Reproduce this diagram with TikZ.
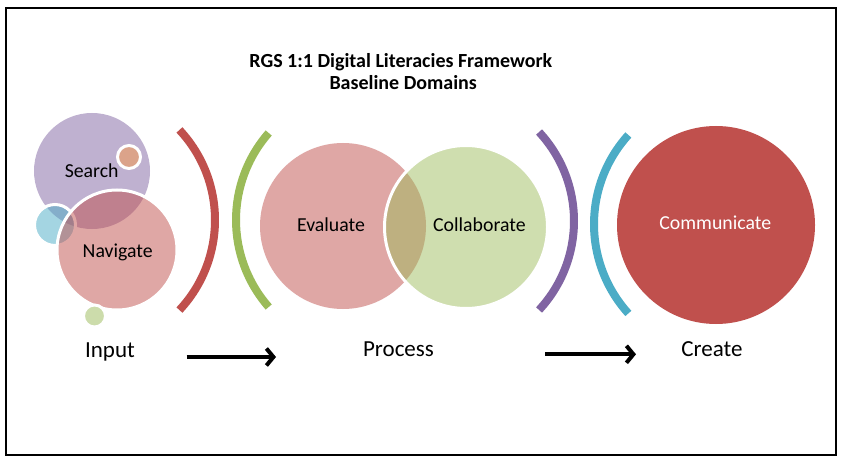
\documentclass[tikz,border=0pt]{standalone}
\usepackage{fontspec}
\setmainfont{Carlito}
\usetikzlibrary{arrows.meta}
\definecolor{cRed}{HTML}{C0504D}
\definecolor{cGreen}{HTML}{9BBB59}
\definecolor{cPurple}{HTML}{8064A2}
\definecolor{cBlue}{HTML}{4BACC6}
\definecolor{cOrange}{HTML}{F79646}
\begin{document}
\begin{tikzpicture}[x=1pt,y=-1pt,
  bubble/.style={circle, inner sep=0pt, minimum size=#1, fill opacity=0.5},
  ring/.style={draw=white, line width=3pt},
  lbl/.style={anchor=base, inner sep=0pt, font=\fontsize{19.8}{24}\selectfont},
  stage/.style={anchor=base, inner sep=0pt, font=\fontsize{23}{28}\selectfont},
  heading/.style={anchor=base, inner sep=0pt, font=\bfseries\fontsize{20}{24}\selectfont},
  bracket/.style={line width=8pt},
  flow/.style={line width=4pt, -{Straight Barb[length=7pt,width=17pt]}}
]
\useasboundingbox (0,0) rectangle (842,462);
\fill[white] (0,0) rectangle (842,462);
\draw[line width=2pt] (6,8) rectangle (836,455);

% title
\node[heading] (title1) at (400.8,67.3) {RGS 1:1 Digital Literacies Framework};
\node[heading] (title2) at (403.2,90) {Baseline Domains};

% input cluster
\node[bubble=116pt, fill=cPurple] (search) at (92,171) {};
\node[bubble=23pt, fill=cOrange, ring] (dotA) at (129,157) {};
\node[bubble=41pt, fill=cBlue, ring] (dotB) at (55,225) {};
\node[bubble=120pt, fill=cRed, ring] (navigate) at (117,250) {};
\node[bubble=22pt, fill=cGreen, ring] (dotC) at (94.5,316) {};

% brackets
\draw[bracket, cRed] (83.2,220) ++(-43.1:131.8)
  arc[start angle=-43.1, end angle=43.1, radius=131.8];
\draw[bracket, cGreen] (368.1,220) ++(221.2:132.1)
  arc[start angle=221.2, end angle=138.8, radius=132.1];
\draw[bracket, cPurple] (443.3,221) ++(-42.9:130.7)
  arc[start angle=-42.9, end angle=42.9, radius=130.7];
\draw[bracket, cBlue] (727.1,224.2) ++(222.1:133.1)
  arc[start angle=222.1, end angle=137.9, radius=133.1];

% process pair
\node[bubble=166pt, fill=cRed] (evaluate) at (343,226) {};
\node[bubble=163pt, fill=cGreen, fill opacity=0.48, ring] (collab) at (466,227) {};

% create
\node[circle, inner sep=0pt, minimum size=198pt, fill=cRed] (communicate) at (716,225) {};

% labels
\node[lbl] (searchT) at (91.7,177.7) {Search};
\node[lbl] (navT) at (117.7,257.7) {Navigate};
\node[lbl] (evalT) at (331,232) {Evaluate};
\node[lbl] (collabT) at (479.4,231.7) {Collaborate};
\node[lbl, text=white] (commT) at (715.3,229.3) {Communicate};

\node[stage] (input) at (110,357) {Input};
\node[stage] (process) at (398.5,356.7) {Process};
\node[stage] (create) at (712,356.7) {Create};

% flow arrows
\coordinate (a1s) at (186.7,357);
\coordinate (a1e) at (276,357);
\coordinate (a2s) at (545,354.3);
\coordinate (a2e) at (636,354.3);
\draw[flow] (a1s) -- (a1e);
\draw[flow] (a2s) -- (a2e);
\end{tikzpicture}
\end{document}
